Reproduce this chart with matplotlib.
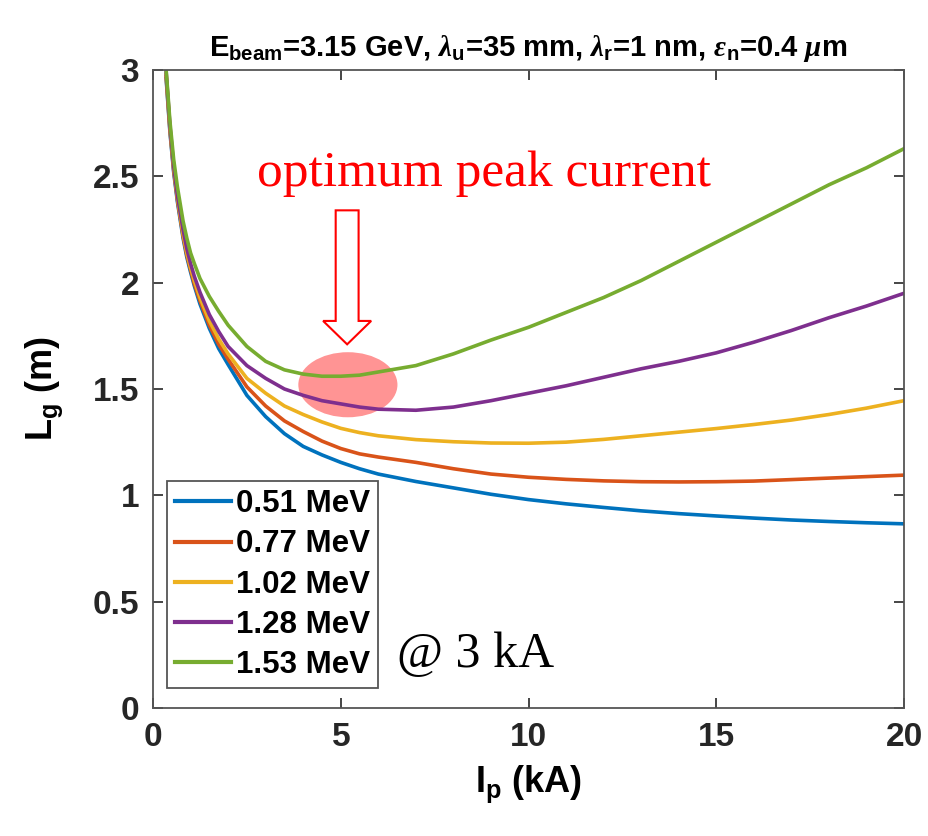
import numpy as np
import matplotlib
matplotlib.use("Agg")
import matplotlib.pyplot as plt
from matplotlib.patches import Ellipse, FancyArrow

plt.rcParams['font.family'] = ['Liberation Sans', 'DejaVu Sans']
plt.rcParams['font.weight'] = 'bold'
plt.rcParams['mathtext.fontset'] = 'custom'
plt.rcParams['mathtext.rm'] = 'Liberation Sans:bold'
plt.rcParams['mathtext.bf'] = 'Liberation Sans:bold'
plt.rcParams['mathtext.it'] = 'Liberation Sans:bold'
plt.rcParams['mathtext.sf'] = 'Liberation Serif:italic'

# peak current (kA)
ip = [0.35, 0.45, 0.55, 0.65, 0.8, 0.9, 1.0, 1.1, 1.25, 1.5, 1.75, 2.0, 2.5, 3.0,
      3.5, 4.0, 4.5, 5.0, 5.5, 6.0, 7.0, 8.0, 9.0, 10, 11, 12, 13, 14, 15, 16,
      17, 18, 19, 20]

# gain length (m) for each energy spread
lg_051 = [2.96, 2.71, 2.52, 2.38, 2.21, 2.12, 2.05, 1.985, 1.90, 1.785, 1.69,
          1.615, 1.47, 1.37, 1.29, 1.23, 1.19, 1.155, 1.125, 1.10, 1.065, 1.035,
          1.005, 0.98, 0.96, 0.943, 0.927, 0.914, 0.903, 0.893, 0.884, 0.877,
          0.871, 0.866]
lg_077 = [2.97, 2.72, 2.53, 2.39, 2.22, 2.13, 2.06, 1.995, 1.915, 1.80, 1.71,
          1.64, 1.51, 1.42, 1.35, 1.30, 1.255, 1.22, 1.195, 1.18, 1.155, 1.125,
          1.10, 1.085, 1.075, 1.068, 1.064, 1.063, 1.064, 1.067, 1.074, 1.081,
          1.088, 1.095]
lg_102 = [2.98, 2.73, 2.54, 2.40, 2.23, 2.14, 2.07, 2.01, 1.93, 1.82, 1.735,
          1.665, 1.55, 1.48, 1.42, 1.38, 1.345, 1.315, 1.295, 1.28, 1.262, 1.252,
          1.246, 1.245, 1.25, 1.263, 1.28, 1.297, 1.314, 1.333, 1.354, 1.38,
          1.41, 1.445]
lg_128 = [2.99, 2.74, 2.55, 2.41, 2.25, 2.16, 2.09, 2.03, 1.955, 1.85, 1.77,
          1.70, 1.61, 1.55, 1.50, 1.47, 1.445, 1.43, 1.415, 1.405, 1.40, 1.415,
          1.445, 1.48, 1.515, 1.555, 1.595, 1.63, 1.67, 1.72, 1.775, 1.835,
          1.89, 1.95]
lg_153 = [3.0, 2.76, 2.58, 2.45, 2.29, 2.21, 2.14, 2.09, 2.02, 1.935, 1.865,
          1.80, 1.70, 1.63, 1.59, 1.57, 1.56, 1.56, 1.565, 1.58, 1.61, 1.665,
          1.73, 1.79, 1.86, 1.93, 2.01, 2.10, 2.19, 2.28, 2.37, 2.46, 2.54, 2.63]

series = [lg_051, lg_077, lg_102, lg_128, lg_153]
labels = ['0.51 MeV', '0.77 MeV', '1.02 MeV', '1.28 MeV', '1.53 MeV']
colors = ['#0072BD', '#D95319', '#EDB120', '#7E2F8E', '#77AC30']

fig = plt.figure(figsize=(9.29, 8.36), dpi=100)
ax = fig.add_axes([0.1647, 0.1531, 0.8084, 0.7632])

for y, lab, c in zip(series, labels, colors):
    ax.plot(ip, y, color=c, lw=2.6, label=lab, solid_joinstyle='round')

ax.set_xlim(0, 20)
ax.set_ylim(0, 3)
ax.set_xticks([0, 5, 10, 15, 20])
ax.set_yticks([0, 0.5, 1, 1.5, 2, 2.5, 3])
ax.set_yticklabels(['0', '0.5', '1', '1.5', '2', '2.5', '3'])
ax.tick_params(direction='in', length=7, width=1.2, top=True, right=True,
               labelsize=24, colors='#262626', pad=10)
for s in ax.spines.values():
    s.set_color('#555555')
    s.set_linewidth(1.3)

ax.set_xlabel('$I_p$ (kA)', fontsize=26, fontweight='bold', labelpad=8)
ax.set_ylabel('$L_g$ (m)', fontsize=26, fontweight='bold', labelpad=20)
ax.set_title(r'$E_{beam}$=3.15 GeV, $\mathsf{\lambda}_u$=35 mm, '
             r'$\mathsf{\lambda}_r$=1 nm, $\mathsf{\epsilon}_n$=0.4 $\mathsf{\mu}$m',
             fontsize=21, fontweight='bold', pad=10)

leg = ax.legend(loc='lower left', bbox_to_anchor=(0.019, 0.031), fontsize=22.5,
                handlelength=1.8, handletextpad=0.15, labelspacing=0.33,
                borderpad=0.25, borderaxespad=0, fancybox=False, framealpha=1)
leg.get_frame().set_edgecolor('#555555')
leg.get_frame().set_linewidth(1.3)
for line in leg.get_lines():
    line.set_linewidth(3)

# annotation
ax.add_patch(Ellipse((5.19, 1.52), 2.64, 0.306, color='red', alpha=0.42, lw=0))
ax.add_patch(FancyArrow(5.17, 2.34, 0, -0.63, width=0.61, head_width=1.28,
                        head_length=0.11, length_includes_head=True,
                        fc='white', ec='red', lw=1.5))
ax.text(8.8, 2.51, 'optimum peak current', color='red', fontsize=37,
        family='Liberation Serif', fontweight='normal', ha='center', va='center')
ax.text(6.5, 0.25, '@ 3 kA', color='black', fontsize=36,
        family='Liberation Serif', fontweight='normal', ha='left', va='center')

fig.savefig('out.png', dpi=100)
